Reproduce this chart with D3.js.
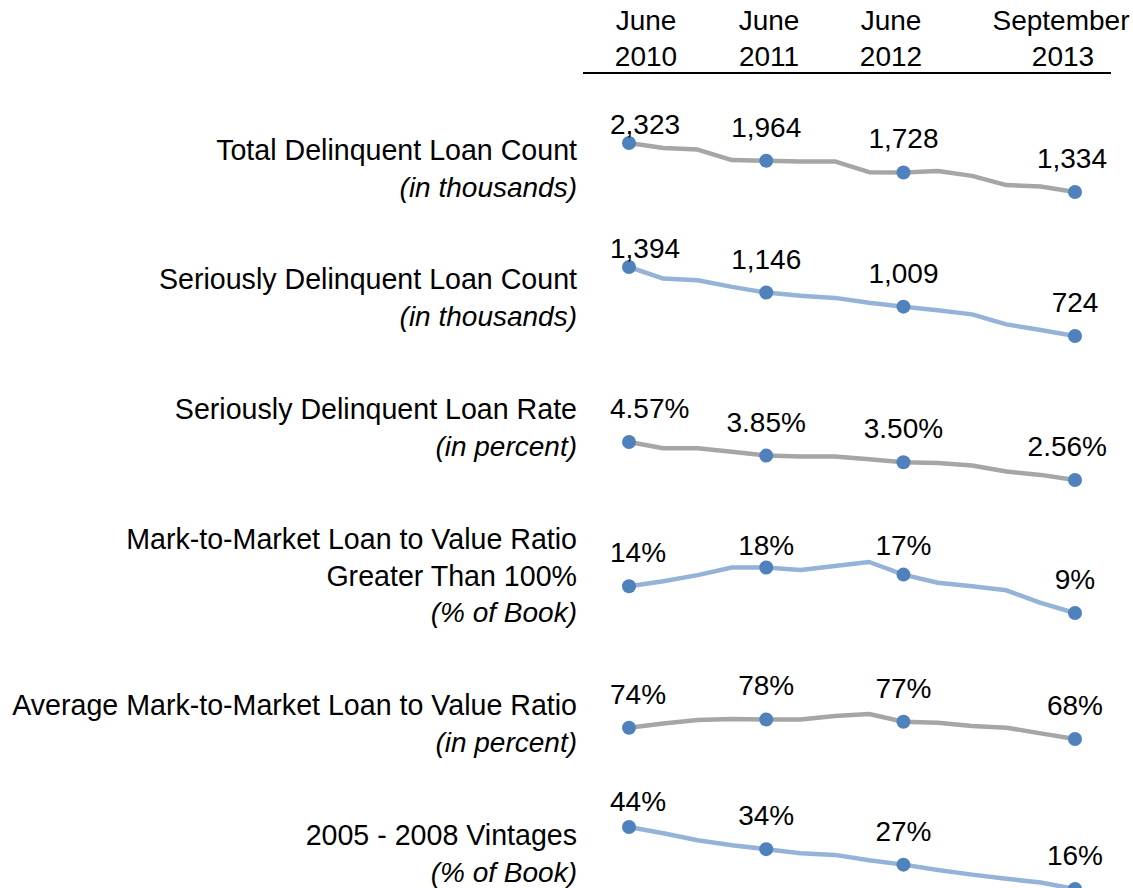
<!DOCTYPE html>
<html>
<head>
<meta charset="utf-8">
<script src="https://cdn.jsdelivr.net/npm/d3@7"></script>
<style>
  body { margin: 0; background: #fff; }
  svg { display: block; overflow: hidden; }
  text { font-family: "Liberation Sans", Arial, sans-serif; fill: #000; }
</style>
</head>
<body>
<div id="chart"></div>
<script>
// quarters shown on the sparklines
const quarters = ["Jun 2010", "Sep 2010", "Dec 2010", "Mar 2011", "Jun 2011", "Sep 2011", "Dec 2011",
                  "Mar 2012", "Jun 2012", "Sep 2012", "Dec 2012", "Mar 2013", "Jun 2013", "Sep 2013"];

// column headers
const headerTop = ["June", "June", "June", "September"];
const headerBottom = ["2010", "2011", "2012", "2013"];

// which quarters get a marker and a value label
const labelled = [0, 4, 8, 13];

// series values
const totalDelinquent = [2323, 2223, 2191, 1978, 1964, 1952, 1952, 1735, 1728, 1759, 1659, 1474, 1446, 1334];
const seriousCount    = [1394, 1282, 1265, 1201, 1146, 1114, 1094, 1046, 1009, 975, 934, 837, 782, 724];
const seriousRate     = [4.57, 4.24, 4.24, 4.06, 3.85, 3.80, 3.80, 3.66, 3.50, 3.46, 3.33, 3.01, 2.83, 2.56];
const ltvOver100      = [14.3, 15.3, 16.5, 18.0, 18.0, 17.5, 18.3, 19.1, 16.6, 15.0, 14.3, 13.5, 11.0, 9.0];
const avgLtv          = [74.0, 76.3, 78.1, 78.6, 78.4, 78.4, 80.2, 81.3, 77.2, 76.7, 74.9, 74.0, 71.0, 68.0];
const vintages        = [44.0, 41.2, 38.0, 35.8, 34.0, 32.1, 31.4, 29.0, 27.0, 24.6, 22.5, 20.6, 18.9, 16.0];

// row titles
const titles = [
  ["Total Delinquent Loan Count", "(in thousands)"],
  ["Seriously Delinquent Loan Count", "(in thousands)"],
  ["Seriously Delinquent Loan Rate", "(in percent)"],
  ["Mark-to-Market Loan to Value Ratio", "Greater Than 100%", "(% of Book)"],
  ["Average Mark-to-Market Loan to Value Ratio", "(in percent)"],
  ["2005 - 2008 Vintages", "(% of Book)"]
];

const series = [totalDelinquent, seriousCount, seriousRate, ltvOver100, avgLtv, vintages];
const formats = [d3.format(","), d3.format(","), v => d3.format(".2f")(v) + "%",
                 v => d3.format(".0f")(v) + "%", v => d3.format(".0f")(v) + "%", v => d3.format(".0f")(v) + "%"];

// layout per row: pixel band for max/min value, clamp for label baseline, first title baseline
const rowLayout = [
  {top: 143, bottom: 192, labelMin: 134, titleY: 160, color: "#A6A6A6"},
  {top: 267, bottom: 336, labelMin: 258, titleY: 289, color: "#95B3D7"},
  {top: 442, bottom: 480, labelMin: 0,   titleY: 419, color: "#A6A6A6"},
  {top: 562, bottom: 613, labelMin: 555, titleY: 549, color: "#95B3D7"},
  {top: 714, bottom: 739, labelMin: 0,   titleY: 715, color: "#A6A6A6"},
  {top: 827, bottom: 889, labelMin: 811, titleY: 845, color: "#95B3D7"}
];
const headerX = [646, 769, 891, 1061];

const width = 1133, height = 888;
const fontSize = 28;
const titleSize = 28.6;

const svg = d3.select("#chart").append("svg")
    .attr("width", width)
    .attr("height", height);

const x = d3.scalePoint()
    .domain(quarters)
    .range([629, 1075]);

// header
const header = svg.append("g");
header.selectAll("text.top")
  .data(headerTop)
  .join("text")
    .attr("class", "top")
    .attr("x", (d, i) => headerX[i])
    .attr("y", 30)
    .attr("text-anchor", "middle")
    .style("font-size", fontSize + "px")
    .text(d => d);
header.selectAll("text.bottom")
  .data(headerBottom)
  .join("text")
    .attr("class", "bottom")
    .attr("x", (d, i) => headerX[i] + (i == 3 ? 2 : 0))
    .attr("y", 66)
    .attr("text-anchor", "middle")
    .style("font-size", fontSize + "px")
    .text(d => d);
header.append("line")
    .attr("x1", 583).attr("x2", 1111)
    .attr("y1", 73).attr("y2", 73)
    .attr("stroke", "#000")
    .attr("stroke-width", 2);

series.forEach(function(values, r) {
  let lay = rowLayout[r];
  let g = svg.append("g");

  let y = d3.scaleLinear()
      .domain(d3.extent(values))
      .range([lay.bottom, lay.top]);

  // title on the left
  titles[r].forEach(function(t, k) {
    let italic = t.startsWith("(");
    g.append("text")
      .attr("x", 577)
      .attr("y", lay.titleY + k * 36.5)
      .attr("text-anchor", "end")
      .style("font-size", (italic ? fontSize : titleSize) + "px")
      .style("font-style", italic ? "italic" : "normal")
      .text(t);
  });

  let line = d3.line()
      .x((d, i) => x(quarters[i]))
      .y(d => y(d));

  g.append("path")
    .datum(values)
    .attr("d", line)
    .attr("fill", "none")
    .attr("stroke", lay.color)
    .attr("stroke-width", 4.5)
    .attr("stroke-linejoin", "round");

  g.selectAll("circle")
    .data(labelled)
    .join("circle")
      .attr("cx", i => x(quarters[i]))
      .attr("cy", i => y(values[i]))
      .attr("r", 7)
      .attr("fill", "#4F81BD");

  g.selectAll("text.val")
    .data(labelled)
    .join("text")
      .attr("class", "val")
      .attr("y", i => Math.max(y(values[i]) - 24, lay.labelMin))
      .attr("text-anchor", "middle")
      .style("font-size", fontSize + "px")
      .text(i => formats[r](values[i]))
      .attr("x", function(i) {
        let w = this.getComputedTextLength();
        let cx = x(quarters[i]);
        return Math.min(Math.max(cx, 610 + w / 2), 1107 - w / 2);
      });
});
</script>
</body>
</html>
